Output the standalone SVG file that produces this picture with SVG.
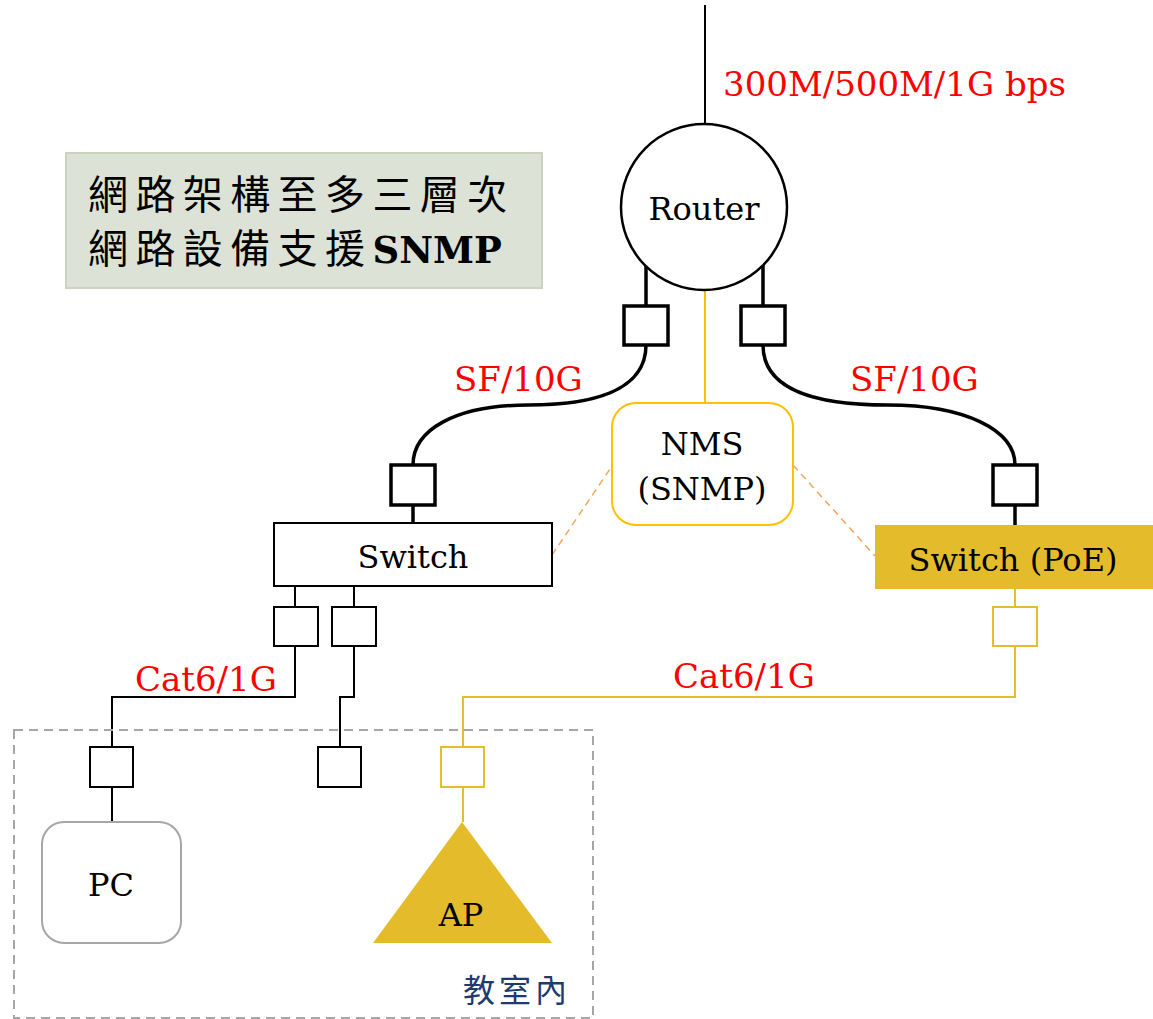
<svg xmlns="http://www.w3.org/2000/svg" width="1153" height="1019" viewBox="0 0 1153 1019">
<style>
.lbl{font-family:"DejaVu Serif","Liberation Serif",serif;fill:#000;text-anchor:middle}
.red{font-family:"DejaVu Serif","Liberation Serif",serif;fill:#FF0000;font-size:34px}
.cjk{font-family:"Noto Sans CJK TC","Noto Sans CJK SC",sans-serif}
.port{fill:#fff;stroke:#000;stroke-width:2}
.portT{fill:#fff;stroke:#000;stroke-width:3.5}
.portY{fill:#fff;stroke:#E4BD2C;stroke-width:2}
.blk{fill:none;stroke:#000;stroke-width:2}
.blkT{fill:none;stroke:#000;stroke-width:3.5}
.yel{fill:none;stroke:#E4BD2C;stroke-width:2}
.dash{fill:none;stroke:#F2A65A;stroke-width:1.5;stroke-dasharray:7,5}
</style>
<rect width="1153" height="1019" fill="#fff"/>
<g id="connectors">
<path class="blk" d="M705,5 V124"/>
<path class="blkT" d="M646,262 V306"/>
<path class="blkT" d="M763,262 V306"/>
<path d="M705,290 V403" fill="none" stroke="#FFC000" stroke-width="2"/>
<path class="blkT" d="M646,345 C646,392 590,405 528,405 C455,405 413,430 413,465"/>
<path class="blkT" d="M763,345 C763,392 820,405 888,405 C965,405 1015,430 1015,465"/>
<path class="blkT" d="M413,505 V523"/>
<path class="blkT" d="M1015,505 V525"/>
<path class="blk" d="M295,587 V607"/>
<path class="blk" d="M354,587 V607"/>
<path class="blk" d="M295,646 V697 H112 V747"/>
<path class="blk" d="M354,646 V697 H340 V747"/>
<path class="blk" d="M112,787 V822"/>
<path class="yel" d="M1015,589 V607"/>
<path class="yel" d="M1015,646 V697 H463 V747"/>
<path class="yel" d="M463,787 V822"/>
<path class="dash" d="M552,555 L612,466"/>
<path class="dash" d="M793,465 L875,556"/>
</g>
<g id="label-isp"><text class="red" x="723" y="96">300M/500M/1G bps</text></g>
<g id="label-sf-left"><text class="red" x="454" y="391">SF/10G</text></g>
<g id="label-sf-right"><text class="red" x="850" y="391">SF/10G</text></g>
<g id="label-cat6-left"><text class="red" x="135" y="691">Cat6/1G</text></g>
<g id="label-cat6-right"><text class="red" x="673" y="688">Cat6/1G</text></g>
<g id="note">
<rect x="66" y="153" width="476" height="135" fill="#DCE2D5" stroke="#C9D3BF" stroke-width="2"/>
<text class="cjk" x="88" y="209" font-size="40" letter-spacing="7.4" fill="#000">網路架構至多三層次</text>
<text class="cjk" x="88" y="263" font-size="40" letter-spacing="7.4" fill="#000">網路設備支援<tspan font-family="'DejaVu Serif',serif" font-weight="bold" font-size="37" letter-spacing="0">SNMP</tspan></text>
</g>
<g id="router">
<circle cx="704" cy="207" r="83" fill="#fff" stroke="#000" stroke-width="2.5"/>
<text class="lbl" x="704" y="220" font-size="32">Router</text>
</g>
<g id="router-port-left"><rect class="portT" x="624" y="306" width="44" height="39"/></g>
<g id="router-port-right"><rect class="portT" x="741" y="306" width="44" height="39"/></g>
<g id="nms">
<rect x="612" y="403" width="181" height="122" rx="24" fill="#fff" stroke="#FFC000" stroke-width="2"/>
<text class="lbl" x="702" y="455" font-size="32">NMS</text>
<text class="lbl" x="702" y="500" font-size="32">(SNMP)</text>
</g>
<g id="switch-port-up"><rect class="portT" x="391" y="465" width="44" height="40"/></g>
<g id="switch">
<rect x="274" y="523" width="278" height="63" fill="#fff" stroke="#000" stroke-width="2"/>
<text class="lbl" x="413" y="568" font-size="32">Switch</text>
</g>
<g id="poe-port-up"><rect class="portT" x="993" y="465" width="44" height="40"/></g>
<g id="switch-poe">
<rect x="875" y="525" width="280" height="64" fill="#E4BC2B"/>
<text class="lbl" x="1013" y="571" font-size="32">Switch (PoE)</text>
</g>
<g id="switch-port-1"><rect class="port" x="274" y="607" width="44" height="39"/></g>
<g id="switch-port-2"><rect class="port" x="332" y="607" width="44" height="39"/></g>
<g id="poe-port-down"><rect class="portY" x="993" y="607" width="44" height="39"/></g>
<g id="classroom">
<rect x="14" y="730" width="579" height="288" fill="none" stroke="#A6A6A6" stroke-width="2" stroke-dasharray="9,6"/>
<text class="cjk" x="463" y="1002" font-size="32" letter-spacing="4" fill="#1F3A6E">教室內</text>
</g>
<g id="pc-port"><rect class="port" x="90" y="747" width="43" height="40"/></g>
<g id="wall-port"><rect class="port" x="318" y="747" width="43" height="40"/></g>
<g id="ap-port"><rect class="portY" x="441" y="747" width="43" height="40"/></g>
<g id="pc">
<rect x="42" y="822" width="139" height="121" rx="22" fill="#fff" stroke="#A6A6A6" stroke-width="2"/>
<text class="lbl" x="111" y="896" font-size="32">PC</text>
</g>
<g id="ap">
<polygon points="462,822 373,943 552,943" fill="#E4BC2B"/>
<text class="lbl" x="461" y="926" font-size="32">AP</text>
</g>
</svg>
